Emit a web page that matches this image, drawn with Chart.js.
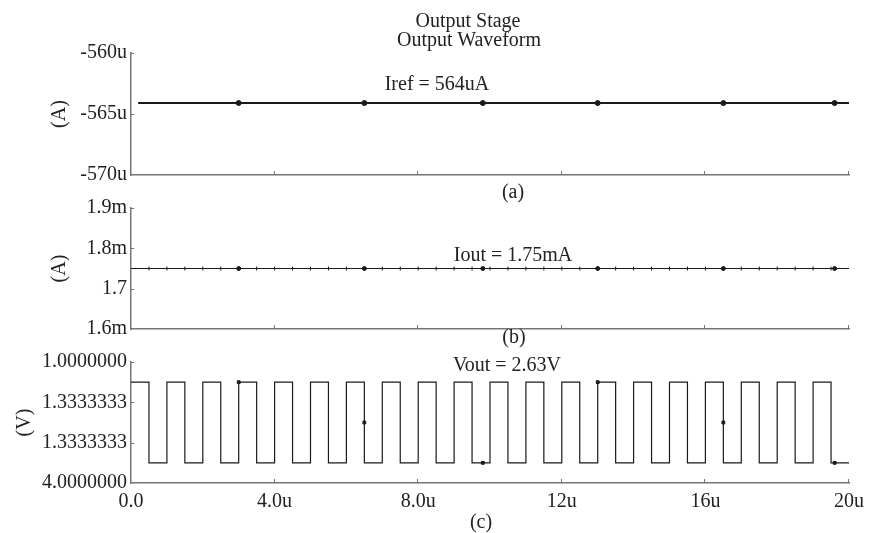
<!DOCTYPE html>
<html lang="en">
<head>
<meta charset="UTF-8">
<title>Output Stage - Output Waveform</title>
<script src="https://cdn.jsdelivr.net/npm/chart.js"></script>
<style>
    body { margin: 0; background: #fff; }
    #wrap { position: relative; width: 871px; height: 533px; overflow: hidden; font-family: 'Liberation Serif', serif; color: #222; }
    canvas { position: absolute; left: 0; }
    .lbl { position: absolute; font-size: 20px; line-height: 20px; white-space: nowrap; transform: translateX(-50%); }
</style>
</head>
<body>
<div id="wrap">
    <canvas id="chartA" width="871" height="191" style="top:0"></canvas>
    <canvas id="chartB" width="871" height="165" style="top:180px"></canvas>
    <canvas id="chartC" width="871" height="203" style="top:330px"></canvas>

    <div class="lbl" style="left:468px; top:10px">Output Stage</div>
    <div class="lbl" style="left:469px; top:29px">Output Waveform</div>
    <div class="lbl" style="left:437px; top:73px">Iref = 564uA</div>
    <div class="lbl" style="left:513px; top:181px">(a)</div>
    <div class="lbl" style="left:513px; top:244px">Iout = 1.75mA</div>
    <div class="lbl" style="left:514px; top:326px">(b)</div>
    <div class="lbl" style="left:507px; top:354px">Vout = 2.63V</div>
    <div class="lbl" style="left:481px; top:511px">(c)</div>
</div>

<script>
    // x axis (time, in u)
    const xTicks = [0, 4, 8, 12, 16, 20];
    const xTickLabels = ['0.0', '4.0u', '8.0u', '12u', '16u', '20u'];

    // (a) Iref, in uA
    const irefT = [0.2, 20];
    const irefV = [-564.1, -564.1];
    const aTicks = [-570, -565, -560];
    const aTickLabels = ['-570u', '-565u', '-560u'];

    // (b) Iout, in mA
    const ioutT = [0, 20];
    const ioutV = [1.75, 1.75];
    const bTicks = [1.6, 1.7, 1.8, 1.9];
    const bTickLabels = ['1.6m', '1.7', '1.8m', '1.9m'];

    // (c) Vout square wave: edge times and levels (axis units)
    const riseT = [0, 1, 2, 3, 4, 5, 6, 7, 8, 9, 10, 11, 12, 13, 14, 15, 16, 17, 18, 19];
    const fallT = [0.5, 1.5, 2.5, 3.5, 4.5, 5.5, 6.5, 7.5, 8.5, 9.5, 10.5, 11.5, 12.5, 13.5, 14.5, 15.5, 16.5, 17.5, 18.5, 19.5];
    const vHigh = 2.5;
    const vLow = 0.5;
    const cTicks = [0, 1, 2, 3];
    const cTickLabels = ['4.0000000', '1.3333333', '1.3333333', '1.0000000'];

    // probe markers on every trace
    const markT = [3.0, 6.5, 9.8, 13.0, 16.5, 19.6];
    const markC = [2.5, 1.5, 0.5, 2.5, 1.5, 0.5];

    const FONT = { family: "'Liberation Serif', 'DejaVu Serif', serif", size: 20 };
    const INK = '#1a1a1a';
    const AXIS = '#757575';

    Chart.defaults.font = FONT;
    Chart.defaults.color = '#222';

    // small tick marks pointing into the plot
    const inTicks = {
        id: 'inTicks',
        afterDraw(chart) {
            const { ctx, chartArea: a, scales: { x, y } } = chart;
            ctx.save();
            ctx.strokeStyle = AXIS;
            ctx.lineWidth = 1;
            ctx.beginPath();
            x.ticks.forEach(t => {
                if (t.value === x.min) return;
                const px = Math.round(x.getPixelForValue(t.value)) - 0.5;
                ctx.moveTo(px, a.bottom);
                ctx.lineTo(px, a.bottom - 4);
            });
            y.ticks.forEach(t => {
                if (t.value === y.min) return;
                const py = Math.round(y.getPixelForValue(t.value)) + 0.5;
                ctx.moveTo(a.left, py);
                ctx.lineTo(a.left + 3, py);
            });
            ctx.stroke();
            ctx.restore();
        }
    };

    function xScale(showLabels, height) {
        return {
            type: 'linear', min: 0, max: 20,
            afterBuildTicks: s => { s.ticks = xTicks.map(v => ({ value: v })); },
            afterFit: s => { s.height = height; },
            ticks: { display: showLabels, padding: 7, maxRotation: 0, autoSkip: false,
                     callback: (v, i) => xTickLabels[i] },
            grid: { display: true, drawOnChartArea: false, drawTicks: false },
            border: { display: true, color: AXIS, width: 1.5 }
        };
    }

    function yScale(min, max, ticks, labels, title, width) {
        return {
            type: 'linear', min: min, max: max,
            afterBuildTicks: s => { s.ticks = ticks.map(v => ({ value: v })); },
            afterFit: s => { s.width = width; },
            ticks: { padding: 4, callback: (v, i) => labels[i] },
            title: { display: true, text: title, padding: { top: 0, bottom: 0 } },
            grid: { display: true, drawOnChartArea: false, drawTicks: false },
            border: { display: true, color: AXIS, width: 1.5 }
        };
    }

    const baseOptions = (padding, x, y) => ({
        responsive: false,
        animation: false,
        layout: { padding: padding },
        plugins: { legend: { display: false }, tooltip: { enabled: false } },
        scales: { x: x, y: y }
    });

    // (a)
    new Chart(document.getElementById('chartA'), {
        type: 'line',
        data: {
            datasets: [
                { data: irefT.map((t, i) => ({ x: t, y: irefV[i] })), borderColor: INK, borderWidth: 2, pointRadius: 0 },
                { data: markT.map(t => ({ x: t, y: irefV[0] })), showLine: false, pointRadius: 2.5,
                  pointBackgroundColor: INK, pointBorderColor: INK }
            ]
        },
        options: baseOptions({ left: 48, right: 22, top: 53, bottom: 0 },
            xScale(false, 0),
            yScale(-570, -560, aTicks, aTickLabels, '(A)', 83)),
        plugins: [inTicks]
    });

    // (b)
    const edgesT = riseT.slice(1).concat(fallT);
    new Chart(document.getElementById('chartB'), {
        type: 'line',
        data: {
            datasets: [
                { data: ioutT.map((t, i) => ({ x: t, y: ioutV[i] })), borderColor: INK, borderWidth: 1, pointRadius: 0 },
                { data: edgesT.map(t => ({ x: t, y: ioutV[0] })), showLine: false, pointStyle: 'line',
                  rotation: 90, pointRadius: 2, pointBorderWidth: 1, pointBorderColor: INK },
                { data: markT.map(t => ({ x: t, y: ioutV[0] })), showLine: false, pointRadius: 2,
                  pointBackgroundColor: INK, pointBorderColor: INK }
            ]
        },
        options: baseOptions({ left: 48, right: 22, top: 28, bottom: 0 },
            xScale(false, 0),
            yScale(1.6, 1.9, bTicks, bTickLabels, '(A)', 83)),
        plugins: [inTicks]
    });

    // (c)
    const wave = [];
    riseT.forEach((t, i) => {
        wave.push({ x: t, y: vHigh });
        wave.push({ x: fallT[i], y: vLow });
    });
    wave.push({ x: 20, y: vLow });
    new Chart(document.getElementById('chartC'), {
        type: 'line',
        data: {
            datasets: [
                { data: wave, stepped: true, borderColor: INK, borderWidth: 1.2, pointRadius: 0 },
                { data: markT.map((t, i) => ({ x: t, y: markC[i] })), showLine: false, pointStyle: 'rect',
                  pointRadius: 2, pointBackgroundColor: INK, pointBorderColor: INK }
            ]
        },
        options: baseOptions({ left: 13, right: 22, top: 32, bottom: 0 },
            xScale(true, 50),
            yScale(0, 3, cTicks, cTickLabels, '(V)', 118)),
        plugins: [inTicks]
    });
</script>
</body>
</html>
